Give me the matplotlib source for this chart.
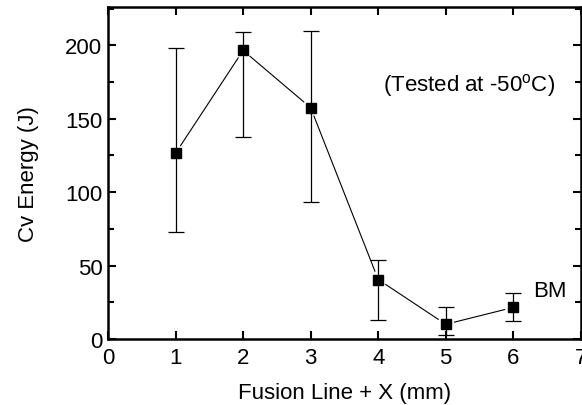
import numpy as np
import matplotlib
matplotlib.use('Agg')
import matplotlib.pyplot as plt
from matplotlib.ticker import MultipleLocator

plt.rcParams['font.family'] = ['Liberation Sans', 'DejaVu Sans']

# Charpy energy vs distance from fusion line
pos_mm = [1, 2, 3, 4, 5, 6]
cv_energy = [126.5, 196.5, 157.5, 40.5, 10.0, 21.5]
err_high = [198, 209, 209.5, 54, 22, 31.5]
err_low = [73, 137.5, 93.5, 13, 2.5, 12]

yerr = np.array([np.subtract(cv_energy, err_low), np.subtract(err_high, cv_energy)])

fig = plt.figure(figsize=(5.82, 4.06), dpi=100)
ax = fig.add_axes([0.1856, 0.1626, 0.8124, 0.8174])

ax.set_xlim(0, 7)
ax.set_ylim(0, 226)

ax.errorbar(pos_mm, cv_energy, yerr=yerr, fmt='none', ecolor='black',
            elinewidth=0.9, capsize=6, capthick=0.9)

# connecting line with small gaps at the symbols (Origin style)
GAP = 9  # px
pts = ax.transData.transform(np.column_stack([pos_mm, cv_energy]))
inv = ax.transData.inverted()
for p0, p1 in zip(pts[:-1], pts[1:]):
    d = p1 - p0
    u = d / np.hypot(*d)
    seg = inv.transform(np.array([p0 + u * GAP, p1 - u * GAP]))
    ax.plot(seg[:, 0], seg[:, 1], color='black', linewidth=0.8)

ax.plot(pos_mm, cv_energy, linestyle='none', marker='s', markersize=7.5,
        color='black')

ax.xaxis.set_major_locator(MultipleLocator(1))
ax.yaxis.set_major_locator(MultipleLocator(50))
ax.yaxis.set_minor_locator(MultipleLocator(25))
ax.tick_params(which='both', direction='in', top=True, right=True,
               labelsize=16, width=1.5)
ax.tick_params(which='major', length=6)
ax.tick_params(which='minor', length=4)
ax.tick_params(axis='x', pad=6)
ax.tick_params(axis='y', pad=4)
for s in ax.spines.values():
    s.set_linewidth(1.8)

ax.set_xlabel('Fusion Line + X (mm)', fontsize=16, labelpad=10)
ax.set_ylabel('Cv Energy (J)', fontsize=16, labelpad=19)

ax.text(4.07, 173, '(Tested at -50$^{\\mathregular{o}}$C)', fontsize=16,
        va='center', ha='left')
ax.text(6.3, 33, 'BM', fontsize=16, va='center', ha='left')

fig.savefig('out.png', dpi=100)
